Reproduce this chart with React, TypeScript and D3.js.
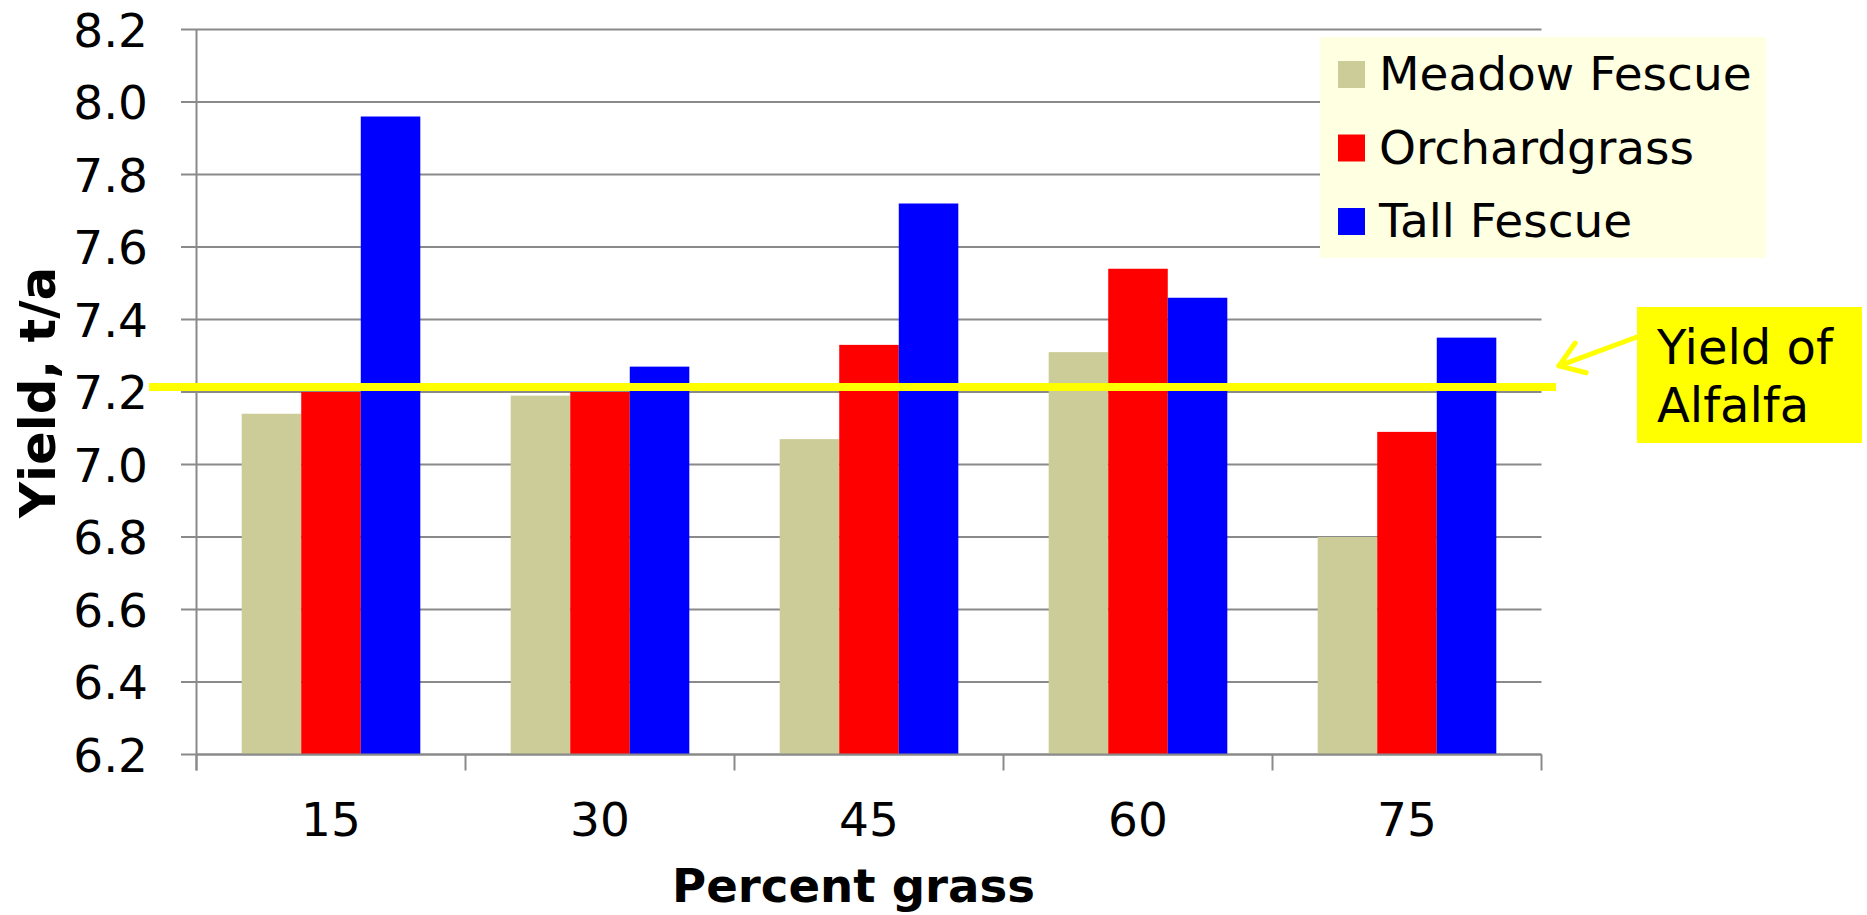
import React from "react";
import * as d3 from "d3";

const categories = ["15", "30", "45", "60", "75"];
const seriesNames = ["Meadow Fescue", "Orchardgrass", "Tall Fescue"];
const meadowFescue = [7.14, 7.19, 7.07, 7.31, 6.8];
const orchardgrass = [7.2, 7.2, 7.33, 7.54, 7.09];
const tallFescue = [7.96, 7.27, 7.72, 7.46, 7.35];
const seriesColors = ["#CCCC99", "#FF0000", "#0000FF"];
const yTicks = [6.2, 6.4, 6.6, 6.8, 7.0, 7.2, 7.4, 7.6, 7.8, 8.0, 8.2];
const alfalfaYield = 7.214;
const annotationLines = ["Yield of", "Alfalfa"];
const xTitle = "Percent grass";
const yTitle = "Yield, t/a";

const W = 1867;
const H = 915;
const left = 196.5;
const right = 1541.5;
const top = 29.5;
const bottom = 754.5;
const FONT = "'DejaVu Sans', Verdana, sans-serif";

export default function App() {
  const seriesValues = [meadowFescue, orchardgrass, tallFescue];
  const pad = 0.336;
  const x0 = d3.scaleBand<string>().domain(categories).range([left, right]).paddingInner(pad).paddingOuter(pad / 2);
  const x1 = d3.scaleBand<string>().domain(seriesNames).range([0, x0.bandwidth()]);
  const y = d3.scaleLinear().domain([6.2, 8.2]).range([bottom, top]);
  const step = x0.step();
  const boundaries = d3.range(categories.length + 1).map((i) => left + i * step);
  const gridColor = "#8a8a8a";
  const yLine = y(alfalfaYield);

  // annotation box
  const boxX = 1637, boxY = 307, boxW = 225, boxH = 136;
  const arrowTip: [number, number] = [1559, yLine - 21];
  const arrowStart: [number, number] = [boxX, boxY + 30];
  const ang = Math.atan2(arrowStart[1] - arrowTip[1], arrowStart[0] - arrowTip[0]);
  const headLen = 28;
  const headSpread = 0.6;
  const h1 = [arrowTip[0] + headLen * Math.cos(ang + headSpread), arrowTip[1] + headLen * Math.sin(ang + headSpread)];
  const h2 = [arrowTip[0] + headLen * Math.cos(ang - headSpread), arrowTip[1] + headLen * Math.sin(ang - headSpread)];

  // legend
  const legX = 1320, legY = 37, legW = 446, legH = 221;

  return (
    <svg width={W} height={H} style={{ position: "absolute", left: 0, top: 0, background: "#fff" }} fontFamily={FONT}>
      {/* gridlines and y ticks */}
      {yTicks.map((t) => (
        <line key={"g" + t} x1={181} x2={right} y1={y(t)} y2={y(t)} stroke={gridColor} strokeWidth={2} />
      ))}
      {/* y axis */}
      <line x1={left} x2={left} y1={top} y2={bottom + 16} stroke={gridColor} strokeWidth={2} />
      {/* x ticks */}
      {boundaries.map((bx, i) => (
        <line key={"xt" + i} x1={bx} x2={bx} y1={bottom} y2={bottom + 16} stroke={gridColor} strokeWidth={2} />
      ))}
      {/* bars */}
      {categories.map((c, ci) => (
        <g key={c} transform={`translate(${x0(c)},0)`}>
          {seriesNames.map((s, si) => (
            <rect
              key={s}
              x={x1(s)}
              y={y(seriesValues[si][ci])}
              width={x1.bandwidth()}
              height={bottom - y(seriesValues[si][ci])}
              fill={seriesColors[si]}
            />
          ))}
        </g>
      ))}
      {/* x axis line */}
      <line x1={left} x2={right} y1={bottom} y2={bottom} stroke={gridColor} strokeWidth={2} />
      {/* y tick labels */}
      {yTicks.map((t) => (
        <text key={"yl" + t} x={148} y={y(t) + 17} textAnchor="end" fontSize={47} fill="#000">
          {t.toFixed(1)}
        </text>
      ))}
      {/* x tick labels */}
      {categories.map((c) => (
        <text key={"xl" + c} x={x0(c)! + x0.bandwidth() / 2} y={836} textAnchor="middle" fontSize={47} fill="#000">
          {c}
        </text>
      ))}
      {/* axis titles */}
      <text x={672} y={901.5} fontSize={46} fontWeight="bold" fill="#000" textLength={363} lengthAdjust="spacingAndGlyphs">
        {xTitle}
      </text>
      <text transform={`translate(55,518) rotate(-90)`} fontSize={50} fontWeight="bold" fill="#000" textLength={251} lengthAdjust="spacingAndGlyphs">
        {yTitle}
      </text>
      {/* alfalfa line */}
      <line x1={149} x2={1556} y1={yLine} y2={yLine} stroke="#FFFF00" strokeWidth={8} />
      {/* legend */}
      <rect x={legX} y={legY} width={legW} height={legH} fill="#FFFFE1" />
      {seriesNames.map((s, i) => (
        <g key={"leg" + s}>
          <rect x={legX + 18} y={legY + 24 + i * 73.5} width={27} height={27} fill={seriesColors[i]} />
          <text x={legX + 59} y={legY + 53 + i * 73.5} fontSize={47} fill="#000">
            {s}
          </text>
        </g>
      ))}
      {/* annotation */}
      <rect x={boxX} y={boxY} width={boxW} height={boxH} fill="#FFFF00" />
      {annotationLines.map((l, i) => (
        <text key={l} x={boxX + 20} y={boxY + 57 + i * 58} fontSize={48} fill="#000">
          {l}
        </text>
      ))}
      <line x1={arrowStart[0]} y1={arrowStart[1]} x2={arrowTip[0]} y2={arrowTip[1]} stroke="#FFFF00" strokeWidth={5} strokeLinecap="round" />
      <polyline points={`${h1[0]},${h1[1]} ${arrowTip[0]},${arrowTip[1]} ${h2[0]},${h2[1]}`} fill="none" stroke="#FFFF00" strokeWidth={5} strokeLinecap="round" strokeLinejoin="round" />
    </svg>
  );
}
